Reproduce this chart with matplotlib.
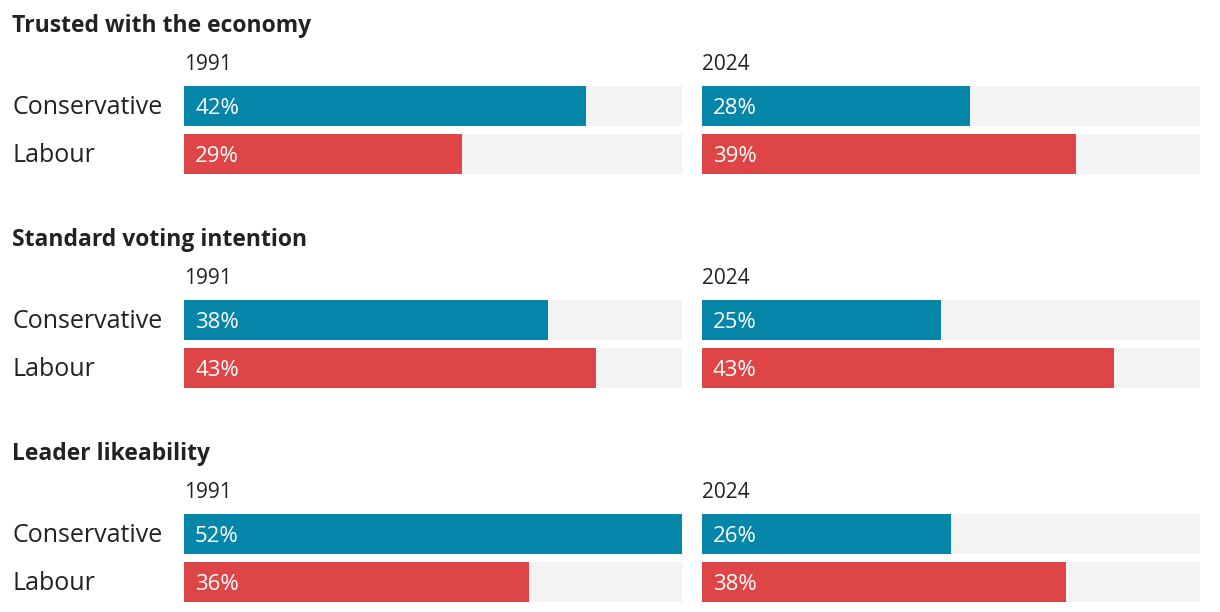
import matplotlib.pyplot as plt
from matplotlib import transforms

plt.rcParams['font.family'] = ['Open Sans', 'DejaVu Sans']

sections = ["Trusted with the economy", "Standard voting intention", "Leader likeability"]
years = ["1991", "2024"]
parties = ["Conservative", "Labour"]
# values[section][year] = [conservative, labour]
values = [
    [[42, 29], [28, 39]],
    [[38, 43], [25, 43]],
    [[52, 36], [26, 38]],
]
max_val = 52

colors = ["#0586a8", "#de4546"]
bg = "#f3f3f3"
ink = "#222222"

W, H = 1220, 612
fig = plt.figure(figsize=(W / 100, H / 100), dpi=100)


def fx(px):
    return px / W


def fy(py):
    return 1 - py / H


panel_x = [184, 702]
panel_w = 498
for s, title in enumerate(sections):
    off = 214 * s
    fig.text(fx(12), fy(26 + off), title, fontsize=16.5, fontweight="bold",
             color=ink, va="center", ha="left")
    for y, year in enumerate(years):
        top = 86 + off
        ax = fig.add_axes([fx(panel_x[y]), fy(top + 88), fx(panel_w), 88 / H])
        vals = values[s][y]
        ax.barh(range(2), [max_val] * 2, height=40 / 48, color=bg)
        ax.barh(range(2), vals, height=40 / 48, color=colors)
        ax.set_xlim(0, max_val)
        ax.set_ylim(1 + 20 / 48, -20 / 48)
        ax.axis("off")
        for i, v in enumerate(vals):
            ax.annotate(f"{v}%", xy=(0, i), xytext=(11, -2), textcoords="offset pixels",
                        color="white", fontsize=16, va="center", ha="left")
        ax.annotate(year, xy=(0, -20 / 48), xytext=(0, 22), textcoords="offset pixels",
                    fontsize=15, color=ink, va="center", ha="left")
        if y == 0:
            tr = transforms.blended_transform_factory(fig.transFigure, ax.transData)
            for i, p in enumerate(parties):
                ax.annotate(p, xy=(fx(12), i), xycoords=tr, xytext=(0, -2),
                            textcoords="offset pixels", fontsize=18, color=ink,
                            va="center", ha="left")

fig.savefig("out.png", dpi=100)
